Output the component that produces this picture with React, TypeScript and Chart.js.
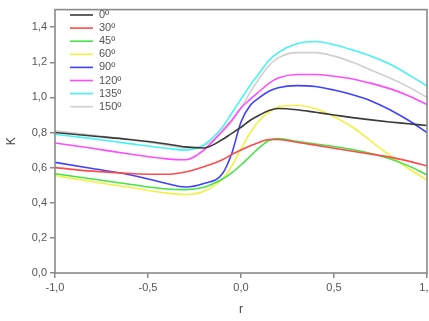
import React, { useEffect, useRef } from "react";
import { Chart, registerables } from "chart.js";

Chart.register(...registerables);

const rValues = [-1.0, -0.8, -0.6, -0.4, -0.3, -0.2, -0.1, -0.05, 0.0, 0.05, 0.1, 0.15, 0.2, 0.3, 0.4, 0.5, 0.6, 0.7, 0.8, 0.9, 1.0];

const k0 = [0.80, 0.78, 0.76, 0.735, 0.718, 0.712, 0.76, 0.795, 0.83, 0.87, 0.90, 0.925, 0.937, 0.93, 0.915, 0.90, 0.885, 0.872, 0.86, 0.85, 0.84];
const k30 = [0.60, 0.58, 0.567, 0.562, 0.575, 0.605, 0.645, 0.675, 0.70, 0.725, 0.745, 0.76, 0.76, 0.745, 0.728, 0.71, 0.693, 0.677, 0.66, 0.637, 0.61];
const k45 = [0.565, 0.535, 0.505, 0.478, 0.475, 0.488, 0.535, 0.57, 0.615, 0.665, 0.715, 0.755, 0.765, 0.75, 0.735, 0.72, 0.703, 0.68, 0.65, 0.61, 0.56];
const k60 = [0.555, 0.52, 0.488, 0.455, 0.447, 0.465, 0.535, 0.61, 0.705, 0.80, 0.87, 0.915, 0.945, 0.955, 0.935, 0.89, 0.83, 0.75, 0.67, 0.595, 0.53];
const k90 = [0.63, 0.595, 0.56, 0.51, 0.49, 0.51, 0.565, 0.68, 0.86, 0.955, 1.00, 1.035, 1.055, 1.067, 1.062, 1.042, 1.015, 0.98, 0.93, 0.87, 0.80];
const k120 = [0.74, 0.71, 0.678, 0.65, 0.645, 0.70, 0.81, 0.87, 0.94, 0.99, 1.035, 1.08, 1.11, 1.13, 1.13, 1.12, 1.105, 1.08, 1.05, 1.01, 0.96];
const k135 = [0.79, 0.765, 0.737, 0.71, 0.70, 0.73, 0.83, 0.91, 0.99, 1.07, 1.14, 1.21, 1.255, 1.305, 1.318, 1.30, 1.27, 1.235, 1.19, 1.13, 1.065];
const k150 = [0.81, 0.785, 0.76, 0.728, 0.712, 0.725, 0.80, 0.86, 0.94, 1.03, 1.11, 1.18, 1.225, 1.255, 1.255, 1.235, 1.20, 1.155, 1.11, 1.06, 1.00];

const seriesLabels = ["0º", "30º", "45º", "60º", "90º", "120º", "135º", "150º"];
const seriesValues = [k0, k30, k45, k60, k90, k120, k135, k150];
const seriesColors = ["#3a3a3a", "#ff4a4a", "#44e444", "#f2f244", "#4040ff", "#ff4cff", "#44f4f4", "#cfcfcf"];

const yTickValues = [0, 0.2, 0.4, 0.6, 0.8, 1.0, 1.2, 1.4];

const fmt = (v: number) => Number(v).toFixed(1).replace(".", ",");

const framePlugin = {
  id: "frame",
  afterDatasetsDraw(chart: any) {
    const { ctx, chartArea } = chart;
    ctx.save();
    ctx.strokeStyle = "#8a8a8a";
    ctx.lineWidth = 1.6;
    ctx.strokeRect(chartArea.left, chartArea.top, chartArea.right - chartArea.left, chartArea.bottom - chartArea.top);
    ctx.restore();
  },
};

const legendPlugin = {
  id: "insideLegend",
  afterDraw(chart: any) {
    const { ctx } = chart;
    ctx.save();
    ctx.font = "11px 'Liberation Sans', Arial, sans-serif";
    ctx.textBaseline = "middle";
    chart.data.datasets.forEach((ds: any, i: number) => {
      const y = 15 + i * 13.1;
      ctx.strokeStyle = ds.borderColor;
      ctx.lineWidth = 1.6;
      ctx.beginPath();
      ctx.moveTo(70, y);
      ctx.lineTo(93, y);
      ctx.stroke();
      ctx.fillStyle = "#555";
      ctx.fillText(ds.label, 99, y);
    });
    ctx.restore();
  },
};

export default function App() {
  const ref = useRef<HTMLCanvasElement | null>(null);
  useEffect(() => {
    if (!ref.current) return;
    const datasets = seriesValues.map((vals, i) => ({
      label: seriesLabels[i],
      data: vals.map((v, j) => ({ x: rValues[j], y: v })),
      borderColor: seriesColors[i],
      backgroundColor: seriesColors[i],
      borderWidth: 1.6,
      pointRadius: 0,
      fill: false,
      cubicInterpolationMode: "monotone" as const,
    }));
    const tickFont = { family: "'Liberation Sans', Arial, sans-serif", size: 11 };
    const chart = new Chart(ref.current, {
      type: "line",
      data: { datasets },
      options: {
        animation: false,
        responsive: false,
        layout: { padding: { left: 0, top: 5, right: 13, bottom: 0 } },
        plugins: { legend: { display: false }, tooltip: { enabled: false } },
        scales: {
          x: {
            type: "linear",
            min: -1,
            max: 1,
            border: { display: false },
            grid: { drawOnChartArea: false, drawTicks: true, tickLength: 5, color: "#8a8a8a", lineWidth: 1.5 },
            ticks: { stepSize: 0.5, padding: 3, color: "#555", font: tickFont, callback: (v: any) => fmt(v), maxRotation: 0 },
            title: { display: true, text: "r", color: "#444", font: { family: "'Liberation Sans', Arial, sans-serif", size: 12 } },
            afterFit: (s: any) => { s.height = 48; },
          },
          y: {
            type: "linear",
            min: 0,
            max: 1.5,
            border: { display: false },
            grid: { drawOnChartArea: false, drawTicks: true, tickLength: 5, color: "#8a8a8a", lineWidth: 1.5 },
            ticks: { padding: 3, color: "#555", font: tickFont, callback: (v: any) => fmt(v) },
            afterBuildTicks: (s: any) => { s.ticks = yTickValues.map((v) => ({ value: v })); },
            title: { display: true, text: "K", color: "#444", font: { family: "'Liberation Sans', Arial, sans-serif", size: 12 } },
            afterFit: (s: any) => { s.width = 55; },
          },
        },
      },
      plugins: [framePlugin, legendPlugin],
    });
    return () => chart.destroy();
  }, []);
  return (
    <div style={{ position: "fixed", left: 0, top: 0, width: 429, height: 321, overflow: "hidden", background: "#fff" }}>
      <canvas ref={ref} width={440} height={321} style={{ display: "block" }} />
    </div>
  );
}
